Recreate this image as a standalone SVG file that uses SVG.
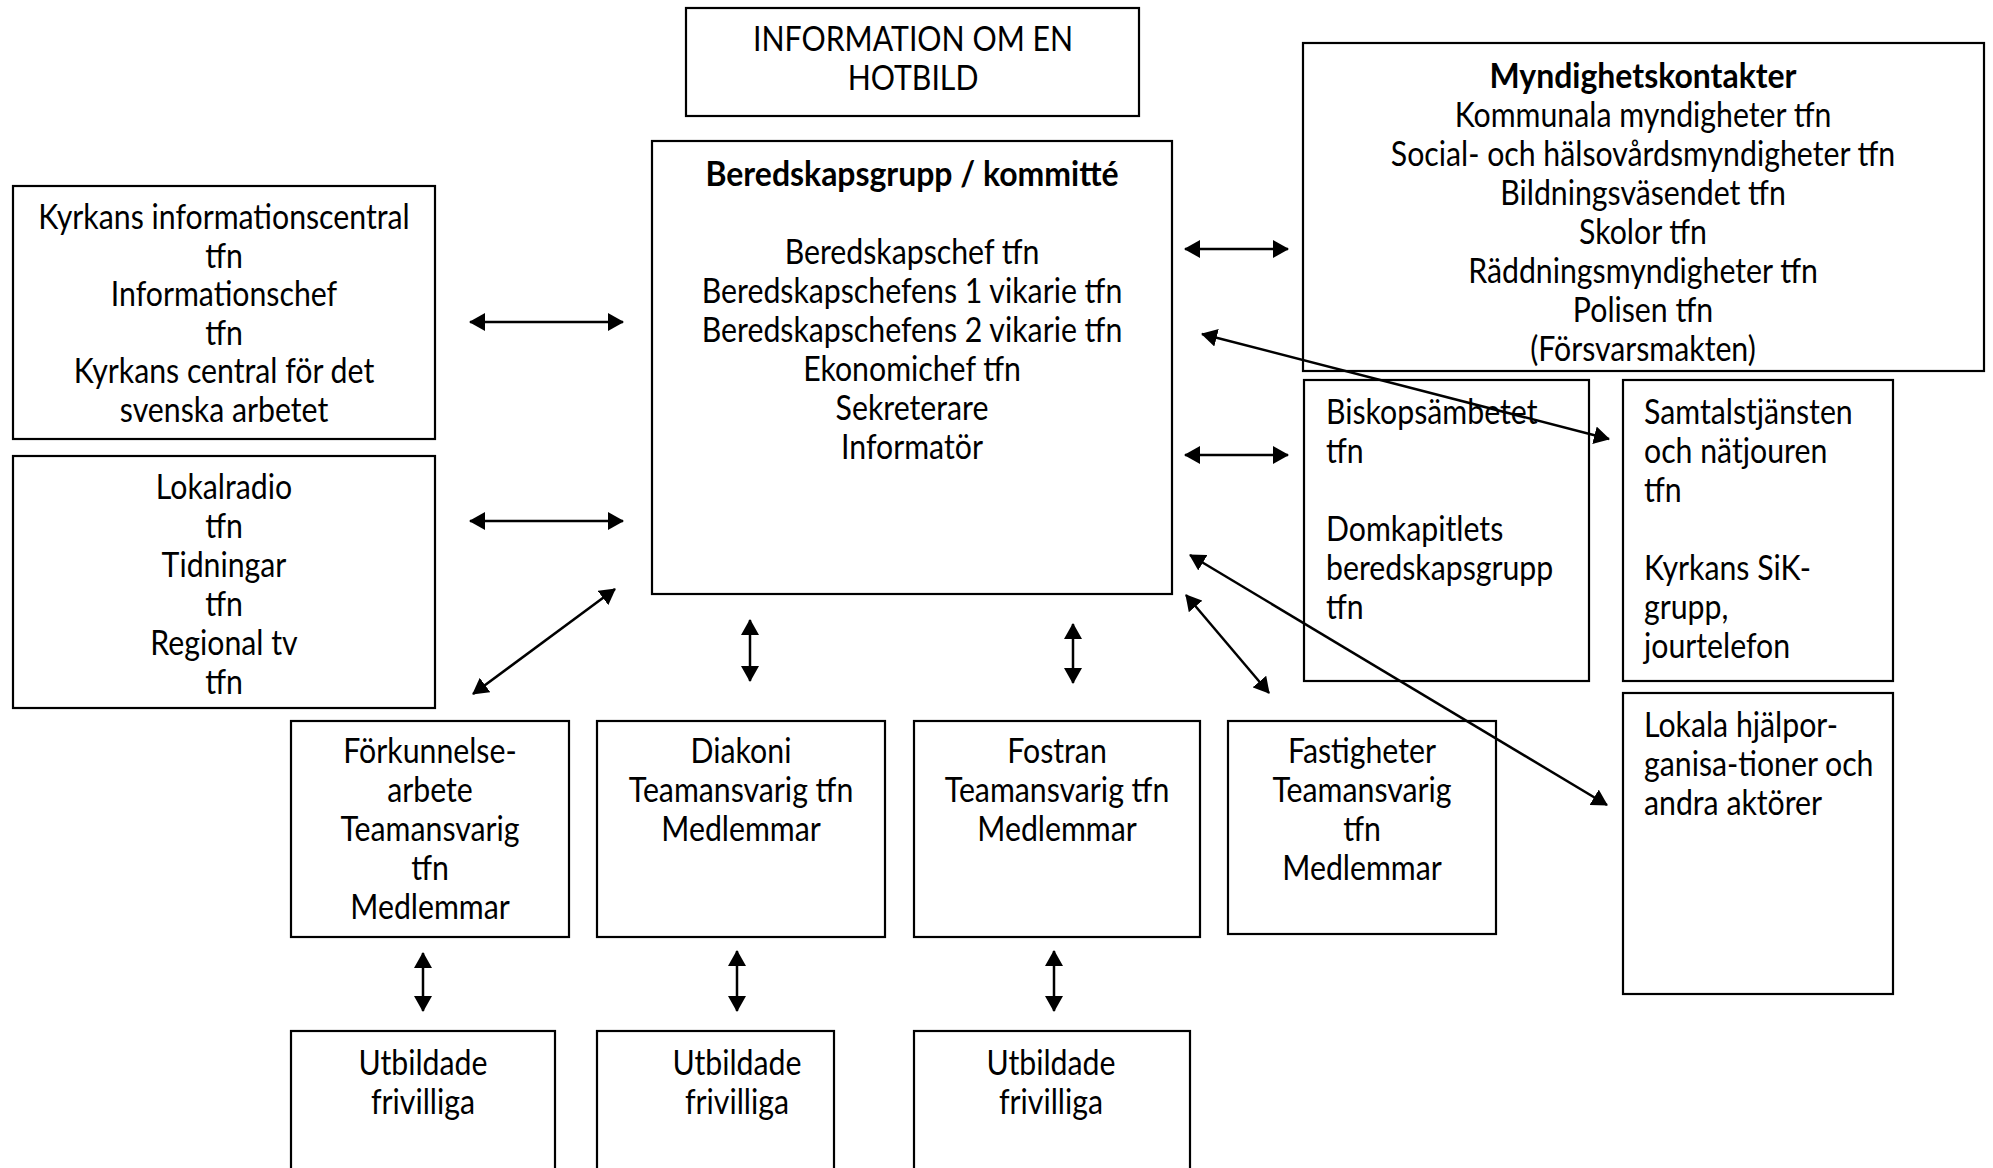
<svg xmlns="http://www.w3.org/2000/svg" width="1993" height="1168" viewBox="0 0 1993 1168">
<style>
  rect.box { fill: #fff; stroke: #000; stroke-width: 2.2; }
  text { font-family: Lato, "Open Sans", sans-serif; font-size: 34px; fill: #000; }
  text.c { text-anchor: middle; }
  text.l { text-anchor: start; }
  text.b { font-weight: bold; text-anchor: middle; }
  .conn line { stroke: #000; stroke-width: 2.5; marker-start: url(#ah); marker-end: url(#ah); }
</style>
<defs>
  <marker id="ah" viewBox="0 0 16 18" refX="15" refY="9" markerWidth="16" markerHeight="18" markerUnits="userSpaceOnUse" orient="auto-start-reverse">
    <path d="M0,0 L16,9 L0,18 z" fill="#000"/>
  </marker>
</defs>
<rect width="1993" height="1168" fill="#fff"/>

<g id="hotbild">
  <rect class="box" x="686" y="8" width="453" height="108"/>
  <text class="c" transform="translate(913,0) scale(0.89,1)"><tspan x="0" y="51">INFORMATION OM EN</tspan><tspan x="0" y="90">HOTBILD</tspan></text>
</g>

<g id="beredskapsgrupp">
  <rect class="box" x="652" y="141" width="520" height="453"/>
  <text class="b" transform="translate(912,0) scale(0.94,1)" x="0" y="186">Beredskapsgrupp / kommitté</text>
  <text class="c" transform="translate(912,0) scale(0.89,1)"><tspan x="0" y="264">Beredskapschef tfn</tspan><tspan x="0" y="303">Beredskapschefens 1 vikarie tfn</tspan><tspan x="0" y="342">Beredskapschefens 2 vikarie tfn</tspan><tspan x="0" y="381">Ekonomichef tfn</tspan><tspan x="0" y="420">Sekreterare</tspan><tspan x="0" y="459">Informatör</tspan></text>
</g>

<g id="myndighetskontakter">
  <rect class="box" x="1303" y="43" width="681" height="328"/>
  <text class="b" transform="translate(1643,0) scale(0.94,1)" x="0" y="88">Myndighetskontakter</text>
  <text class="c" transform="translate(1643,0) scale(0.89,1)"><tspan x="0" y="127">Kommunala myndigheter tfn</tspan><tspan x="0" y="166">Social- och hälsovårdsmyndigheter tfn</tspan><tspan x="0" y="205">Bildningsväsendet tfn</tspan><tspan x="0" y="244">Skolor tfn</tspan><tspan x="0" y="283">Räddningsmyndigheter tfn</tspan><tspan x="0" y="322">Polisen tfn</tspan><tspan x="0" y="361">(Försvarsmakten)</tspan></text>
</g>

<g id="kyrkans-information">
  <rect class="box" x="13" y="186" width="422" height="253"/>
  <text class="c" transform="translate(224,0) scale(0.89,1)"><tspan x="0" y="229">Kyrkans informationscentral</tspan><tspan x="0" y="268">tfn</tspan><tspan x="0" y="306">Informationschef</tspan><tspan x="0" y="345">tfn</tspan><tspan x="0" y="383">Kyrkans central för det</tspan><tspan x="0" y="422">svenska arbetet</tspan></text>
</g>

<g id="lokalradio">
  <rect class="box" x="13" y="456" width="422" height="252"/>
  <text class="c" transform="translate(224,0) scale(0.89,1)"><tspan x="0" y="499">Lokalradio</tspan><tspan x="0" y="538">tfn</tspan><tspan x="0" y="577">Tidningar</tspan><tspan x="0" y="616">tfn</tspan><tspan x="0" y="655">Regional tv</tspan><tspan x="0" y="694">tfn</tspan></text>
</g>

<g id="biskopsambetet">
  <rect class="box" x="1304" y="380" width="285" height="301"/>
  <text class="l" transform="translate(1326,0) scale(0.89,1)"><tspan x="0" y="424">Biskopsämbetet</tspan><tspan x="0" y="463">tfn</tspan><tspan x="0" y="541">Domkapitlets</tspan><tspan x="0" y="580">beredskapsgrupp</tspan><tspan x="0" y="619">tfn</tspan></text>
</g>

<g id="samtalstjansten">
  <rect class="box" x="1623" y="380" width="270" height="301"/>
  <text class="l" transform="translate(1644,0) scale(0.89,1)"><tspan x="0" y="424">Samtalstjänsten</tspan><tspan x="0" y="463">och nätjouren</tspan><tspan x="0" y="502">tfn</tspan><tspan x="0" y="580">Kyrkans SiK-</tspan><tspan x="0" y="619">grupp,</tspan><tspan x="0" y="658">jourtelefon</tspan></text>
</g>

<g id="lokala-hjalp">
  <rect class="box" x="1623" y="693" width="270" height="301"/>
  <text class="l" transform="translate(1644,0) scale(0.89,1)"><tspan x="0" y="737">Lokala hjälpor-</tspan><tspan x="0" y="776">ganisa-tioner och</tspan><tspan x="0" y="815">andra aktörer</tspan></text>
</g>

<g id="forkunnelse">
  <rect class="box" x="291" y="721" width="278" height="216"/>
  <text class="c" transform="translate(430,0) scale(0.89,1)"><tspan x="0" y="763">Förkunnelse-</tspan><tspan x="0" y="802">arbete</tspan><tspan x="0" y="841">Teamansvarig</tspan><tspan x="0" y="880">tfn</tspan><tspan x="0" y="919">Medlemmar</tspan></text>
</g>

<g id="diakoni">
  <rect class="box" x="597" y="721" width="288" height="216"/>
  <text class="c" transform="translate(741,0) scale(0.89,1)"><tspan x="0" y="763">Diakoni</tspan><tspan x="0" y="802">Teamansvarig tfn</tspan><tspan x="0" y="841">Medlemmar</tspan></text>
</g>

<g id="fostran">
  <rect class="box" x="914" y="721" width="286" height="216"/>
  <text class="c" transform="translate(1057,0) scale(0.89,1)"><tspan x="0" y="763">Fostran</tspan><tspan x="0" y="802">Teamansvarig tfn</tspan><tspan x="0" y="841">Medlemmar</tspan></text>
</g>

<g id="fastigheter">
  <rect class="box" x="1228" y="721" width="268" height="213"/>
  <text class="c" transform="translate(1362,0) scale(0.89,1)"><tspan x="0" y="763">Fastigheter</tspan><tspan x="0" y="802">Teamansvarig</tspan><tspan x="0" y="841">tfn</tspan><tspan x="0" y="880">Medlemmar</tspan></text>
</g>

<g id="frivilliga-1">
  <rect class="box" x="291" y="1031" width="264" height="160"/>
  <text class="c" transform="translate(423,0) scale(0.89,1)"><tspan x="0" y="1075">Utbildade</tspan><tspan x="0" y="1114">frivilliga</tspan></text>
</g>

<g id="frivilliga-2">
  <rect class="box" x="597" y="1031" width="237" height="160"/>
  <text class="c" transform="translate(737,0) scale(0.89,1)"><tspan x="0" y="1075">Utbildade</tspan><tspan x="0" y="1114">frivilliga</tspan></text>
</g>

<g id="frivilliga-3">
  <rect class="box" x="914" y="1031" width="276" height="160"/>
  <text class="c" transform="translate(1051,0) scale(0.89,1)"><tspan x="0" y="1075">Utbildade</tspan><tspan x="0" y="1114">frivilliga</tspan></text>
</g>

<g id="connectors" class="conn">
  <line x1="470" y1="322" x2="623" y2="322"/>
  <line x1="470" y1="521" x2="623" y2="521"/>
  <line x1="473" y1="694" x2="615" y2="589"/>
  <line x1="1185" y1="249" x2="1288" y2="249"/>
  <line x1="1185" y1="455" x2="1288" y2="455"/>
  <line x1="1202" y1="334" x2="1609" y2="439"/>
  <line x1="1190" y1="555" x2="1607" y2="805"/>
  <line x1="1186" y1="595" x2="1269" y2="693"/>
  <line x1="750" y1="620" x2="750" y2="681"/>
  <line x1="1073" y1="624" x2="1073" y2="683"/>
  <line x1="423" y1="953" x2="423" y2="1011"/>
  <line x1="737" y1="951" x2="737" y2="1011"/>
  <line x1="1054" y1="951" x2="1054" y2="1011"/>
</g>
</svg>
